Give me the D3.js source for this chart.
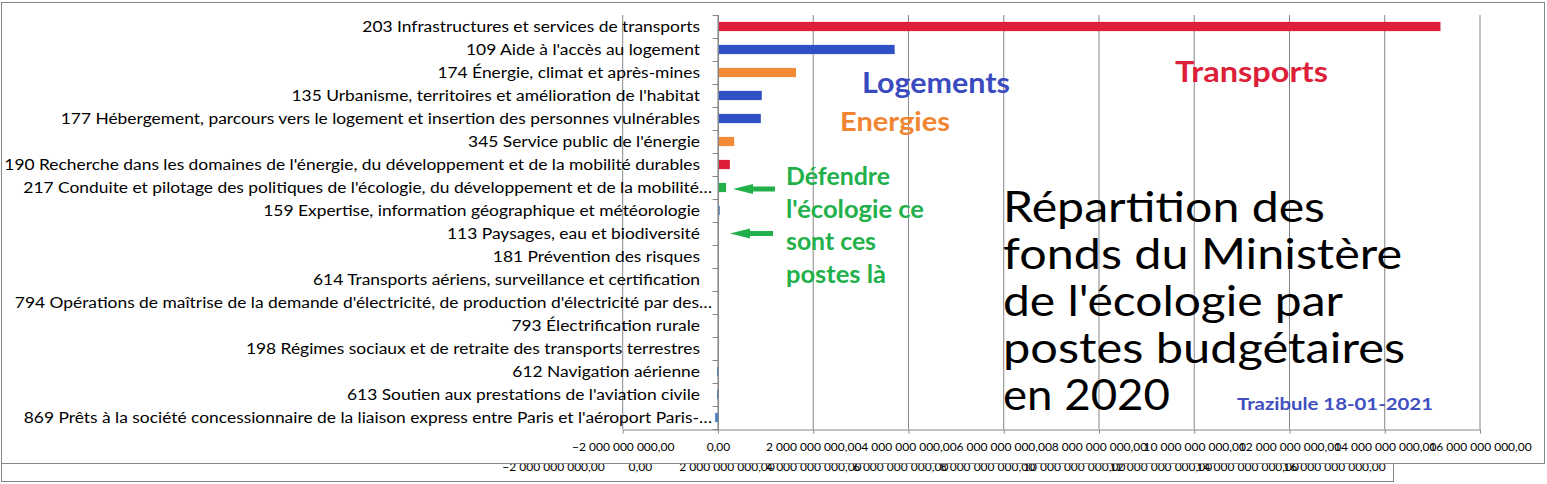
<!DOCTYPE html>
<html>
<head>
<meta charset="utf-8">
<script src="https://cdn.jsdelivr.net/npm/d3@7"></script>
<style>
  body { margin: 0; background: #fff; }
  svg { display: block; font-family: Lato, "Open Sans", sans-serif; }
</style>
</head>
<body>
<div id="chart-area"></div>
<script>
// Budget programmes (labels as shown on the axis)
var categories = [
  "203 Infrastructures et services de transports",
  "109 Aide à l'accès au logement",
  "174 Énergie, climat et après-mines",
  "135 Urbanisme, territoires et amélioration de l'habitat",
  "177 Hébergement, parcours vers le logement et insertion des personnes vulnérables",
  "345 Service public de l'énergie",
  "190 Recherche dans les domaines de l'énergie, du développement et de la mobilité durables",
  "217 Conduite et pilotage des politiques de l'écologie, du développement et de la mobilité…",
  "159 Expertise, information géographique et météorologie",
  "113 Paysages, eau et biodiversité",
  "181 Prévention des risques",
  "614 Transports aériens, surveillance et certification",
  "794 Opérations de maîtrise de la demande d'électricité, de production d'électricité par des…",
  "793 Électrification rurale",
  "198 Régimes sociaux et de retraite des transports terrestres",
  "612 Navigation aérienne",
  "613 Soutien aux prestations de l'aviation civile",
  "869 Prêts à la société concessionnaire de la liaison express entre Paris et l'aéroport Paris-…"
];

// Amounts in euros
var amounts = [
  15.17e9, 3.71e9, 1.64e9, 0.92e9, 0.90e9, 0.34e9, 0.25e9, 0.17e9,
  0.04e9, 0.005e9, 0.003e9, 0.002e9, 0.002e9, 0.002e9, 0.002e9,
  -0.02e9, -0.02e9, -0.06e9
];

// Theme of each programme (drives the bar colour)
var themes = [
  "transports", "logements", "energies", "logements", "logements", "energies",
  "transports", "ecologie", "autre", "autre", "autre", "autre", "autre",
  "autre", "autre", "autre", "autre", "autre"
];

var xTicks = [-2e9, 0, 2e9, 4e9, 6e9, 8e9, 10e9, 12e9, 14e9, 16e9];

var data = categories.map((c, i) => ({ name: c, value: amounts[i], theme: themes[i] }));

var W = 1547, H = 484;
var grey = "#868686";

var fr = d3.formatLocale({ decimal: ",", thousands: "\u00a0", grouping: [3] });
var fmt = fr.format(",.2f");

var color = d3.scaleOrdinal()
  .domain(["transports", "logements", "energies", "ecologie", "autre"])
  .range(["#dd1f3a", "#2f51c4", "#f38a35", "#22b04b", "#4f81bd"]);

var svg = d3.select("#chart-area")
  .append("svg")
    .attr("width", W)
    .attr("height", H);

// ---- chart pasted underneath (only its bottom strip shows) ----
svg.append("rect")
  .attr("x", 1.5).attr("y", 300.5)
  .attr("width", 1392).attr("height", 181)
  .attr("fill", "#fff").attr("stroke", grey);

var xGhost = d3.scaleLinear().domain([-2e9, 16e9]).range([553, 1334]);
var ghostAxis = svg.append("g")
  .attr("transform", "translate(0,449)")
  .call(d3.axisBottom(xGhost).tickValues(xTicks).tickFormat(fmt).tickSize(4));
ghostAxis.select(".domain").remove();
ghostAxis.selectAll("line").remove();
ghostAxis.selectAll("text")
  .attr("dy", null).attr("y", 22)
  .attr("font-family", "Lato, sans-serif").attr("font-size", 12).attr("fill", "#000");

// ---- main chart ----
svg.append("rect")
  .attr("x", 1.5).attr("y", 2.5)
  .attr("width", 1543).attr("height", 461)
  .attr("fill", "#fff").attr("stroke", grey);

var x = d3.scaleLinear().domain([-2e9, 16e9]).range([622.7, 1480]);
var y = d3.scaleBand()
  .domain(categories)
  .range([15, 429])
  .paddingInner(0.6)
  .paddingOuter(0.3);

var g = svg.append("g");

// vertical gridlines
g.selectAll("line.grid")
  .data(xTicks)
  .enter()
  .append("line")
    .attr("class", "grid")
    .attr("x1", d => x(d)).attr("x2", d => x(d))
    .attr("y1", 15).attr("y2", 429)
    .attr("stroke", grey).attr("stroke-width", 1);

// category labels, squeezed horizontally like the narrow spreadsheet font
var labels = g.selectAll("text.cat")
  .data(data)
  .enter()
  .append("text")
    .attr("class", "cat")
    .attr("font-size", 16)
    .attr("fill", "#000")
    .attr("text-anchor", "end")
    .attr("dy", "0.35em")
    .text(d => d.name);

var ref = labels.filter((d, i) => i === 6).node().getComputedTextLength();
var sx = 696 / ref;
labels.attr("transform", d => {
  var right = d.name.endsWith("…") ? 712 : 700;
  return `translate(${right},${y(d.name) + y.bandwidth() / 2}) scale(${sx},1)`;
});

// bars
g.selectAll("rect.bar")
  .data(data)
  .enter()
  .append("rect")
    .attr("class", "bar")
    .attr("x", d => x(Math.min(0, d.value)))
    .attr("y", d => y(d.name))
    .attr("width", d => Math.abs(x(d.value) - x(0)))
    .attr("height", y.bandwidth())
    .attr("fill", d => color(d.theme));

// category axis with ticks between rows
var x0 = Math.round(x(0)) + 0.5;
g.append("line")
  .attr("x1", x0).attr("x2", x0)
  .attr("y1", 15).attr("y2", 429.5)
  .attr("stroke", grey);
g.selectAll("line.ytick")
  .data(d3.range(categories.length + 1))
  .enter()
  .append("line")
    .attr("class", "ytick")
    .attr("x1", x0 - 6).attr("x2", x0)
    .attr("y1", i => 15 + i * y.step() + 0.5)
    .attr("y2", i => 15 + i * y.step() + 0.5)
    .attr("stroke", grey);

// value axis
var xAxis = g.append("g")
  .attr("transform", "translate(0,429.5)")
  .call(d3.axisBottom(x).tickValues(xTicks).tickFormat(fmt).tickSize(4).tickSizeOuter(0));
xAxis.select(".domain").attr("stroke", grey);
xAxis.selectAll("line").attr("stroke", grey);
xAxis.selectAll("text")
  .attr("dy", null).attr("y", 21.5)
  .attr("font-family", "Lato, sans-serif").attr("font-size", 12).attr("fill", "#000");

// ---- annotations ----
function note(txt, px, py, size, col, len, weight) {
  svg.append("text")
    .attr("x", px).attr("y", py)
    .attr("font-size", size)
    .attr("font-weight", weight || "bold")
    .attr("fill", col)
    .attr("textLength", len)
    .attr("lengthAdjust", "spacingAndGlyphs")
    .text(txt);
}

note("Transports", 1175, 82, 28, "#dd1f3a", 153);
note("Logements", 862, 93, 29, "#3a4bbf", 148);
note("Energies", 840, 131, 27, "#f08532", 110);

var green = "#22b04b";
note("Défendre", 786, 185, 24, green, 104);
note("l'écologie ce", 786, 217.5, 24, green, 138);
note("sont ces", 786, 250, 24, green, 90);
note("postes là", 786, 282.5, 24, green, 100);

// arrows pointing at the ecology lines
[189, 233.5].forEach((cy, k) => {
  var tip = k === 0 ? 733 : 730, tail = k === 0 ? 775 : 773;
  svg.append("path")
    .attr("d", `M${tip},${cy} L${tip + 20},${cy - 5} L${tip + 20},${cy - 2.5} L${tail},${cy - 2.5} L${tail},${cy + 2.5} L${tip + 20},${cy + 2.5} L${tip + 20},${cy + 5} Z`)
    .attr("fill", green);
});

var titleLines = ["Répartition des", "fonds du Ministère", "de l'écologie par", "postes budgétaires", "en 2020"];
var titleWidths = [322, 399, 340, 402, 167];
titleLines.forEach((t, i) => {
  note(t, 1003, 222 + i * 47, 42, "#000", titleWidths[i], "normal");
});

note("Trazibule 18-01-2021", 1237, 410, 17, "#4050c0", 196);
</script>
</body>
</html>
